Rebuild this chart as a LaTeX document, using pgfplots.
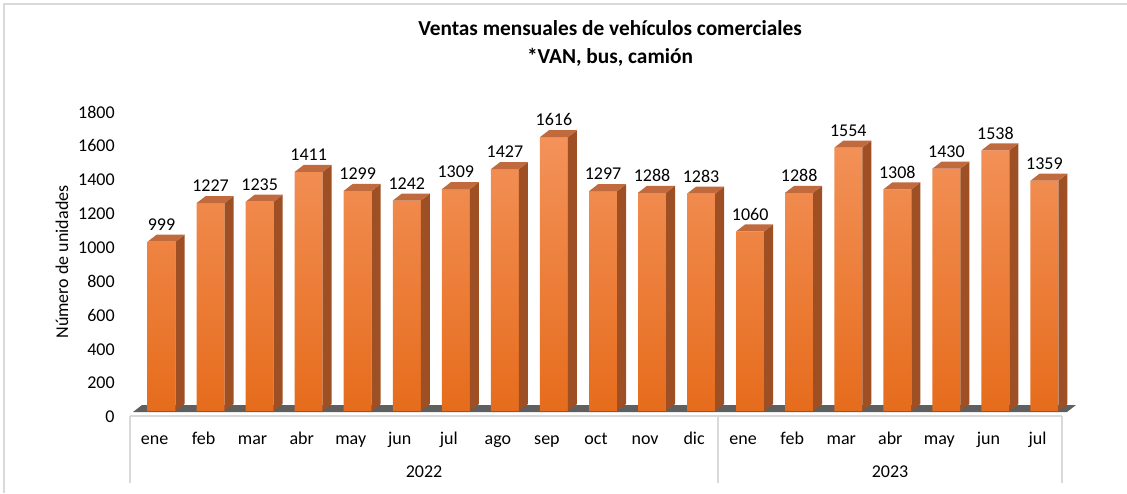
\documentclass[border=0pt]{standalone}
\usepackage{fontspec}
\setmainfont{Carlito}
\usepackage{pgfplots}
\usepackage{pgfplotstable}
\pgfplotsset{compat=1.18}

\definecolor{frontTop}{RGB}{243,146,90}
\definecolor{frontBot}{RGB}{230,108,28}
\definecolor{sideFace}{RGB}{158,80,36}
\definecolor{topFace}{RGB}{192,106,62}
\definecolor{floorGray}{RGB}{95,95,95}
\definecolor{frameGray}{RGB}{217,217,217}

% ventas mensuales (2022: 0-11, 2023: 12-18)
\pgfplotstableread{
x y
0 999
1 1227
2 1235
3 1411
4 1299
5 1242
6 1309
7 1427
8 1616
9 1297
10 1288
11 1283
12 1060
13 1288
14 1554
15 1308
16 1430
17 1538
18 1359
}\ventas

% lateral y tapa de cada barra; \ry = valor de la barra
\pgfdeclareplotmark{caja3d}{%
  \pgfmathsetmacro\hh{\ry*0.12708333}%
  \pgfmathsetmacro\hb{5.25-\ry*0.12708333}%
  \pgfsetfillcolor{sideFace}%
  \pgfpathmoveto{\pgfqpoint{15.75pt}{0pt}}%
  \pgfpathlineto{\pgfqpoint{22.5pt}{5.25pt}}%
  \pgfpathlineto{\pgfpoint{22.5pt}{\hb pt}}%
  \pgfpathlineto{\pgfpoint{15.75pt}{-\hh pt}}%
  \pgfpathclose
  \pgfusepath{fill}%
  \pgfsetfillcolor{topFace}%
  \pgfpathmoveto{\pgfqpoint{-5.25pt}{0pt}}%
  \pgfpathlineto{\pgfqpoint{15.75pt}{0pt}}%
  \pgfpathlineto{\pgfqpoint{22.5pt}{5.25pt}}%
  \pgfpathlineto{\pgfqpoint{1.5pt}{5.25pt}}%
  \pgfpathclose
  \pgfusepath{fill}%
}

\begin{document}
\begin{tikzpicture}[font=\fontsize{13.5}{16}\selectfont]
\useasboundingbox (-97.5pt,-61.5pt) rectangle (747.75pt,308.25pt);
% marco del grafico
\draw[frameGray, line width=1.2pt] (-94.5pt,-61.5pt) -- (-94.5pt,305.25pt) -- (747.75pt,305.25pt);
% suelo 3D
\fill[floorGray] (2.25pt,-0.75pt) -- (702.75pt,-0.75pt) -- (709.5pt,4.5pt) -- (9pt,4.5pt) -- cycle;

\begin{axis}[
    at={(0pt,0pt)}, anchor=south west,
    scale only axis, width=699pt, height=228.75pt,
    xmin=-0.5, xmax=18.5, ymin=0, ymax=1800,
    axis lines*=left, axis line style={draw=none},
    tick style={draw=none},
    ytick={0,200,...,1800},
    xtick={0,...,18},
    xticklabels={ene,feb,mar,abr,may,jun,jul,ago,sep,oct,nov,dic,ene,feb,mar,abr,may,jun,jul},
    xticklabel style={anchor=base, yshift=-24.75pt},
    yticklabel style={xshift=-8pt, yshift=-4.5pt},
    /pgf/number format/assume math mode=true,
    /pgf/number format/1000 sep={},
    clip=false,
  ]
  % cara frontal
  \addplot[ybar, bar width=21pt, bar shift=5.25pt, draw=none,
    top color=frontTop, bottom color=frontBot] table[x=x,y=y]{\ventas};
  % lateral, tapa y etiquetas
  \addplot[only marks, mark=caja3d, draw=none, fill=none,
    point meta=y,
    visualization depends on={rawy \as \ry},
    nodes near coords,
    every node near coord/.append style={anchor=base, xshift=5.25pt, yshift=8.5pt,
      text=black, font=\fontsize{13.5}{16}\selectfont},
  ] table[x=x,y=y]{\ventas};
\end{axis}

% eje de categorias agrupado
\draw[frameGray, line width=1pt] (0pt,-3.75pt) -- (699pt,-3.75pt);
\foreach \xx in {0,441,699}
  \draw[frameGray, line width=1pt] (\xx pt,-3.75pt) -- (\xx pt,-54pt);
\node[anchor=base] at (220.5pt,-49.5pt) {2022};
\node[anchor=base] at (570pt,-49.5pt) {2023};

\node[rotate=90] at (-51pt,111.75pt) {Número de unidades};

\node[anchor=base, font=\bfseries\fontsize{16}{19}\selectfont] at (360pt,281.25pt) {Ventas mensuales de vehículos comerciales};
\node[anchor=base, font=\bfseries\fontsize{16}{19}\selectfont] at (360pt,260.25pt) {*VAN, bus, camión};
\end{tikzpicture}
\end{document}
